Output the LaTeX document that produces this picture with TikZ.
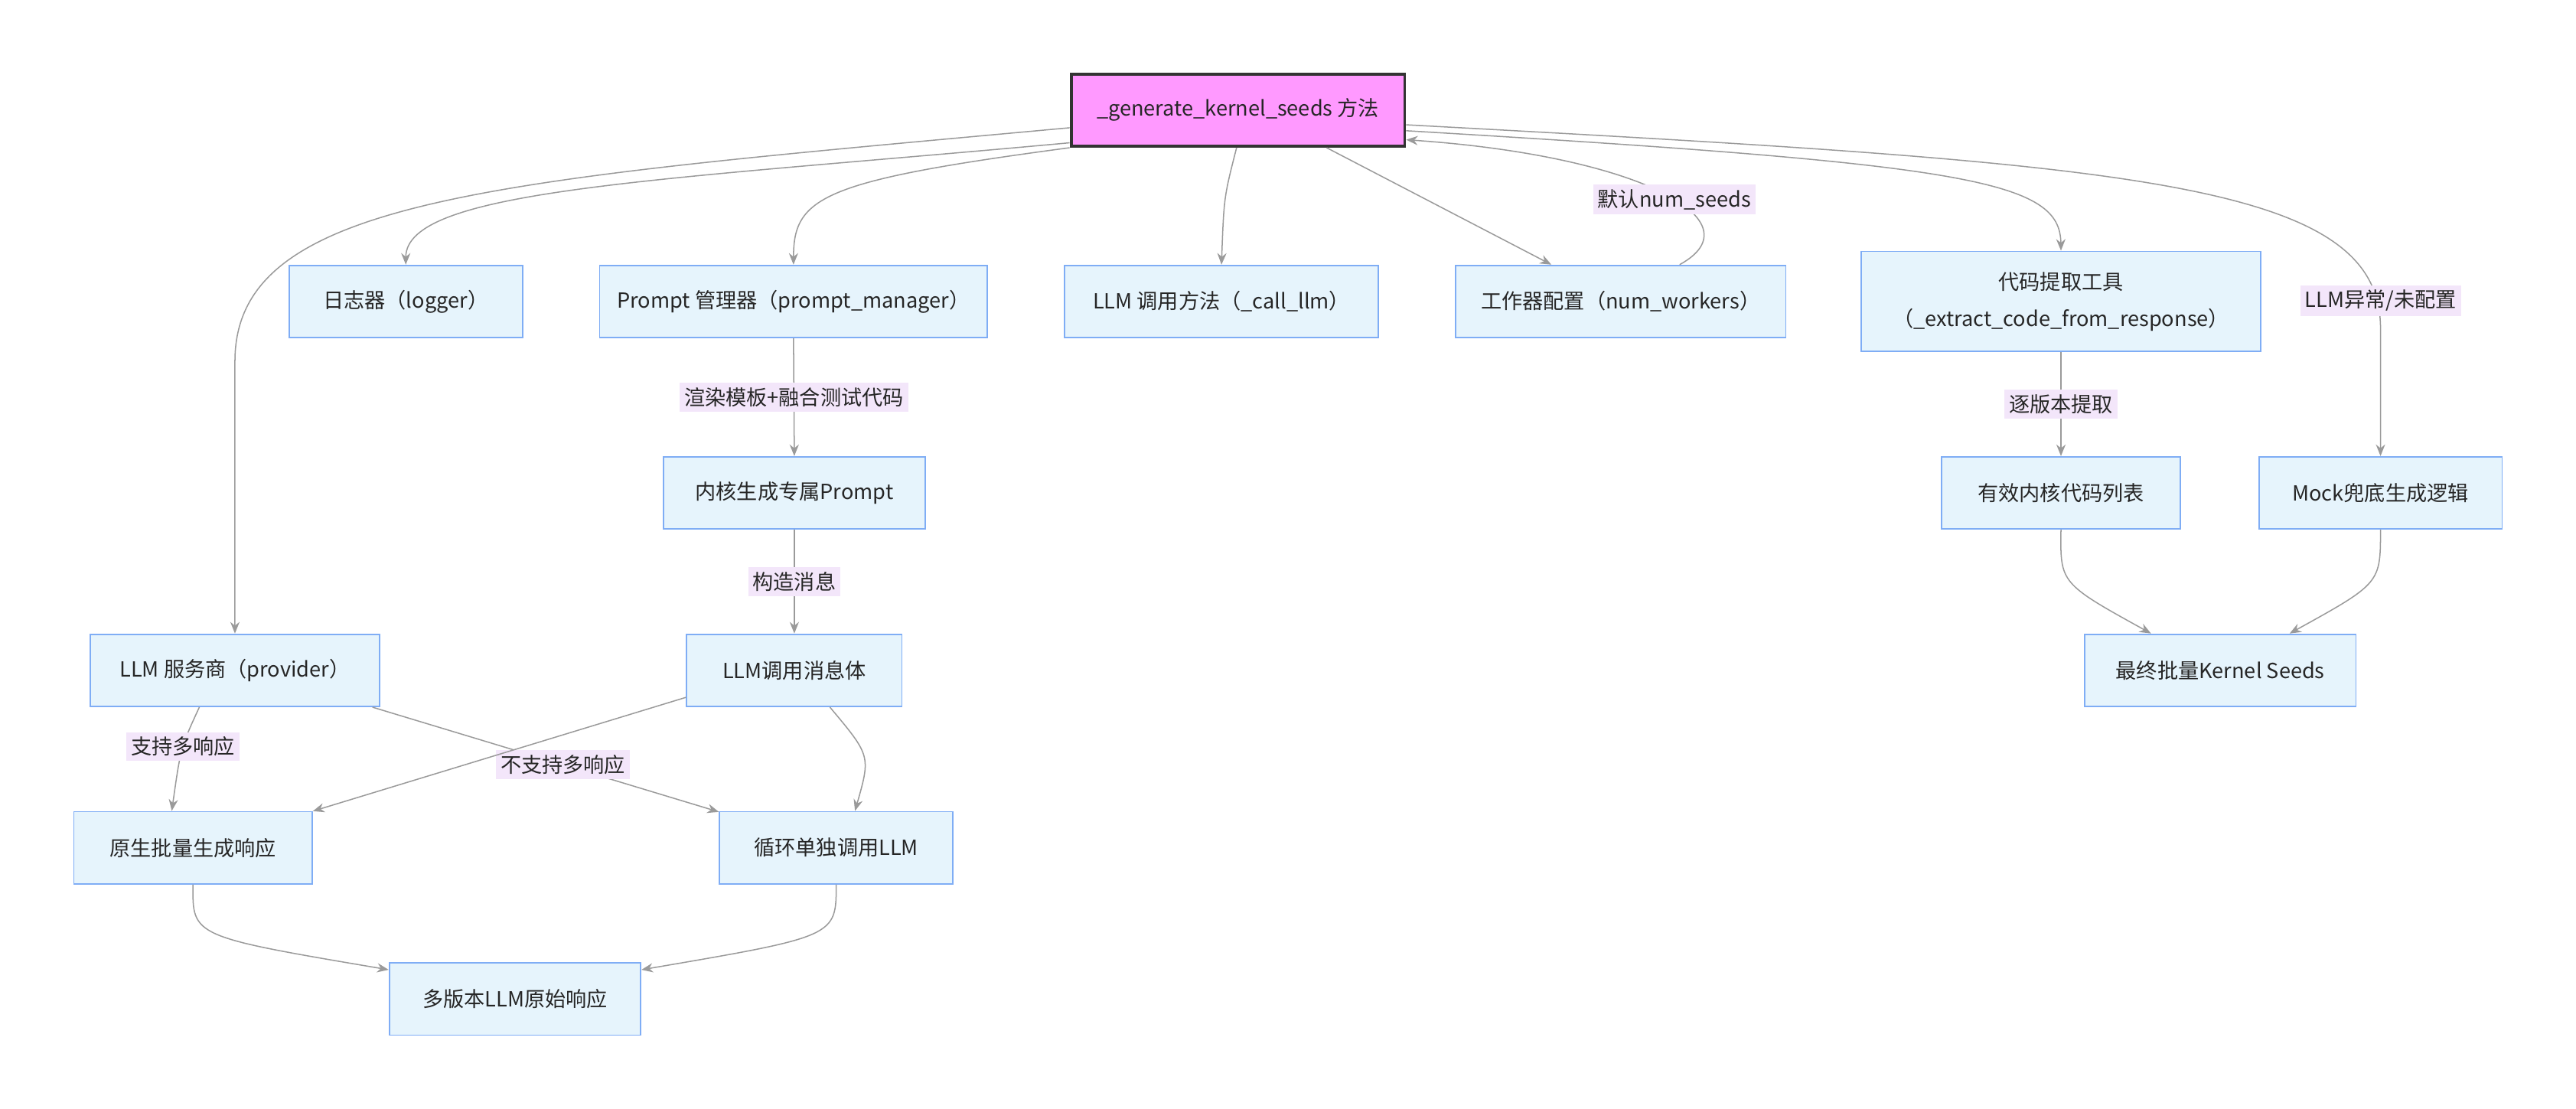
\documentclass[tikz,border=0pt]{standalone}
\usepackage{fontspec}
\setmainfont{Noto Sans CJK SC}
\usetikzlibrary{arrows.meta}
\definecolor{boxfill}{HTML}{E6F4FC}
\definecolor{boxline}{HTML}{7FADF5}
\definecolor{topfill}{HTML}{FF99FF}
\definecolor{edgecol}{HTML}{9A9A9A}
\definecolor{lblfill}{HTML}{F3E6FA}
\tikzset{
  box/.style={draw=boxline, fill=boxfill, line width=0.6pt, minimum height=1.1cm,
    align=center, inner sep=2pt, font=\fontsize{9}{16}\selectfont, text=black!85},
  topbox/.style={box, draw=black!80, fill=topfill, line width=1.3pt},
  link/.style={draw=edgecol, line width=0.5pt, -{Stealth[length=5pt,width=4pt]}},
  lbl/.style={fill=lblfill, inner sep=2pt, font=\fontsize{9}{11}\selectfont, text=black!85}
}
\begin{document}
\begin{tikzpicture}[x=0.025cm, y=-0.025cm]
	\useasboundingbox (0,0) rectangle (1568,675);
	% boxes
	\node[topbox, minimum width=5.075cm] (top) at (753.5,67) {\_generate\_kernel\_seeds 方法};
	\node[box, minimum width=3.55cm] (logger) at (247,183.5) {日志器（logger）};
	\node[box, minimum width=5.9cm] (prompt) at (483,183.5) {Prompt 管理器（prompt\_manager）};
	\node[box, minimum width=4.775cm] (llm) at (743.5,183.5) {LLM 调用方法（\_call\_llm）};
	\node[box, minimum width=5.025cm] (workers) at (986.5,183.5) {工作器配置（num\_workers）};
	\node[box, minimum width=6.075cm, minimum height=1.525cm] (extract) at (1254.5,183.5) {代码提取工具\\（\_extract\_code\_from\_response）};
	\node[box, minimum width=3.975cm] (kprompt) at (483.5,300) {内核生成专属Prompt};
	\node[box, minimum width=3.625cm] (valid) at (1254.5,300) {有效内核代码列表};
	\node[box, minimum width=3.7cm] (mock) at (1449,300) {Mock兜底生成逻辑};
	\node[box, minimum width=4.4cm] (provider) at (143,408) {LLM 服务商（provider）};
	\node[box, minimum width=3.275cm] (msg) at (483.5,408) {LLM调用消息体};
	\node[box, minimum width=4.125cm] (final) at (1351.5,408) {最终批量Kernel Seeds};
	\node[box, minimum width=3.625cm] (native) at (117.5,516) {原生批量生成响应};
	\node[box, minimum width=3.55cm] (loop) at (509,516) {循环单独调用LLM};
	\node[box, minimum width=3.825cm] (multi) at (313.5,608) {多版本LLM原始响应};
	% from the method
	\draw[link] (top.186) .. controls (300,110) and (143,120) .. (143,220) -- (provider.north);
	\draw[link] (top.191) .. controls (400,110) and (247,115) .. (logger.north);
	\draw[link] (top.south west) .. controls (500,110) and (483,120) .. (prompt.north);
	\draw[link] (top.268) .. controls (745,120) .. (llm.north);
	\draw[link] (top.337) -- (workers.152);
	\draw[link] (workers.32) .. controls (1070,135) and (1000,95) .. node[lbl, pos=0.45] {默认num\_seeds} (top.350);
	\draw[link] (top.353) .. controls (1200,100) and (1254,110) .. (extract.north);
	\draw[link] (top.355) .. controls (1300,100) and (1449,110) .. (1449,200) -- (mock.north);
	\node[lbl] (lmock) at (1449,183) {LLM异常/未配置};
	% chains
	\draw[link] (prompt.south) -- node[lbl] {渲染模板+融合测试代码} (kprompt.north);
	\draw[link] (kprompt.south) -- node[lbl] {构造消息} (msg.north);
	\draw[link] (extract.south) -- node[lbl] {逐版本提取} (valid.north);
	\draw[link] (provider.226) .. controls (110,455) .. node[lbl, pos=0.45] {支持多响应} (native.120);
	\draw[link] (provider.345) -- node[lbl, pos=0.55] {不支持多响应} (loop.163);
	\draw[link] (msg.194) -- (native.17);
	\draw[link] (msg.314) .. controls (530,460) .. (loop.63);
	\draw[link] (native.south) .. controls (117,570) .. (multi.167);
	\draw[link] (loop.south) .. controls (509,570) .. (multi.13);
	\draw[link] (valid.south) .. controls (1254,355) .. (final.152);
	\draw[link] (mock.south) .. controls (1449,355) .. (final.28);
\end{tikzpicture}
\end{document}
